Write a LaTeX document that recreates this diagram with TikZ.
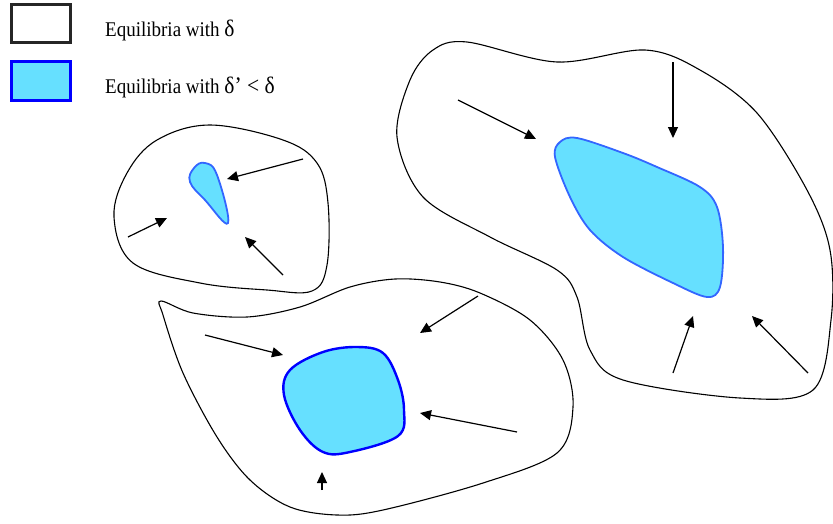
\documentclass[tikz,border=0pt]{standalone}
\usepackage{fontspec}
\setmainfont{Liberation Serif}
\usetikzlibrary{arrows.meta}
\definecolor{fillblue}{RGB}{102,224,255}
\definecolor{lineblue}{RGB}{0,0,255}
\definecolor{lineblueb}{RGB}{51,102,255}
\tikzset{
  outer/.style={draw=black,line width=1.1pt},
  inner/.style={draw=lineblueb,fill=fillblue,line width=1.8pt},
  innerb/.style={draw=lineblue,fill=fillblue,line width=2.4pt},
  flow/.style={line width=1.2pt,-{Triangle[length=11pt,width=10pt]}},
  legtext/.style={anchor=base west,inner sep=0pt,font=\fontsize{19}{22}\selectfont,yscale=1.1}
}
\begin{document}
\begin{tikzpicture}[x=1pt,y=-1pt]
\useasboundingbox (0,0) rectangle (833,523);
% legend
\draw[line width=3pt,draw=black!85] (11,4) rectangle (70,42);
\node[legtext] (l1) at (105,36) {Equilibria with \fontsize{21.5}{22}\selectfont δ};
\draw[line width=3pt,draw=lineblue,fill=fillblue] (11,61) rectangle (70,100);
\node[legtext] (l2) at (105,93) {Equilibria with \fontsize{21.5}{22}\selectfont δ\symbol{39} < δ};
% small blob
\draw[outer] plot[smooth cycle,tension=0.6] coordinates {
 (114,217) (127,173) (157,140) (210,125) (283,140) (317,163) (328,203)
 (327,265) (312,291) (267,290) (200,283) (133,263)};
\draw[inner] plot[smooth cycle,tension=0.7] coordinates {
 (205,163) (217,175) (228,223) (205,200) (190,182) (194,168)};
\draw[flow] (303,159) -- (227,179);
\draw[flow] (128,237) -- (167,218);
\draw[flow] (283,275) -- (245,237);
% bottom blob
\draw[outer] plot[smooth cycle,tension=0.55] coordinates {
 (161,301) (193,313) (247,317) (300,307) (350,287) (395,279) (440,282)
 (480,293) (530,320) (563,360) (573,407) (557,453) (483,483) (383,510)
 (337,515) (290,507) (250,480) (217,437) (183,373) (163,315)};
\draw[innerb] plot[smooth cycle,tension=0.6] coordinates {
 (290,370) (323,352) (357,347) (383,353) (398,380) (404,410) (398,436)
 (350,452) (323,452) (300,430) (284,395)};
\draw[flow] (205,335) -- (283,355);
\draw[flow] (478,296) -- (420,333);
\draw[flow] (517,432) -- (420,413);
\draw[flow] (322,490) -- (322,472);
% big blob
\draw[outer] plot[smooth cycle,tension=0.55] coordinates {
 (467,42) (557,62) (645,50) (700,70) (757,113) (807,190) (830,250)
 (831,320) (813,390) (740,398) (623,380) (590,350) (577,297) (557,270)
 (490,237) (423,197) (397,137) (410,80) (433,50)};
\draw[inner] plot[smooth cycle,tension=0.55] coordinates {
 (560,142) (577,138) (623,153) (657,167) (700,187) (717,207) (723,247)
 (720,287) (707,297) (673,283) (623,257) (590,230) (570,197) (555,157)};
\draw[flow] (458,100) -- (536,139);
\draw[flow] (673,62) -- (673,138);
\draw[flow] (673,373) -- (693,316);
\draw[flow] (808,373) -- (752,316);
\end{tikzpicture}
\end{document}
